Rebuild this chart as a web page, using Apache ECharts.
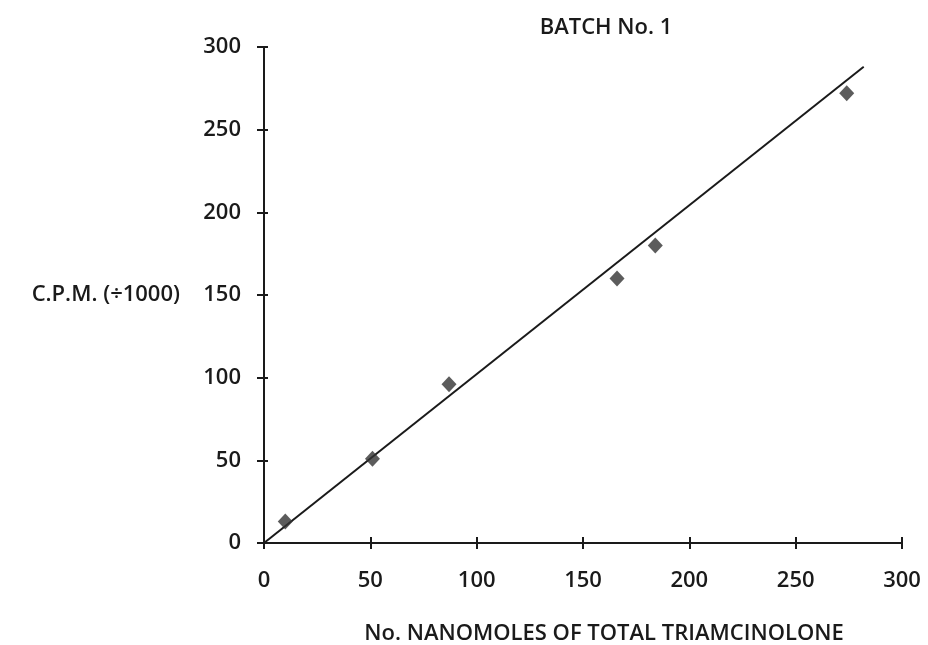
<!DOCTYPE html>
<html>
<head>
<meta charset="utf-8">
<script src="https://cdn.jsdelivr.net/npm/echarts@6/dist/echarts.min.js"></script>
<style>
  html, body { margin: 0; padding: 0; background: #fff; }
  #chart { width: 928px; height: 645px; }
</style>
</head>
<body>
<div id="chart"></div>
<script>
// Measured standards: nanomoles of triamcinolone vs counts per minute (÷1000)
const nanomoles = [10, 51, 87, 166, 184, 274];
const cpm = [13, 51, 96, 160, 180, 272];
// Calibration line endpoints
const fitX = [0, 282];
const fitY = [0, 288];
const axisTicks = [0, 50, 100, 150, 200, 250, 300];

const FONT = 'Open Sans';
const ink = '#1a1a1a';

const chart = echarts.init(document.getElementById('chart'), null, { renderer: 'canvas' });

const baseAxis = {
  min: axisTicks[0],
  max: axisTicks[axisTicks.length - 1],
  interval: axisTicks[1] - axisTicks[0],
  splitLine: { show: false }
};

chart.setOption({
  animation: false,
  backgroundColor: '#fff',
  title: {
    text: 'BATCH No. 1',
    left: 601,
    top: 12,
    textAlign: 'center',
    textStyle: { fontFamily: FONT, fontSize: 22, fontWeight: 600, color: ink }
  },
  grid: {
    left: 264, right: 26, top: 47, bottom: 102,
    containLabel: false,
    outerBoundsMode: 'none'
  },
  xAxis: [
    Object.assign({}, baseAxis, {
      type: 'value',
      name: 'No. NANOMOLES OF TOTAL TRIAMCINOLONE',
      nameLocation: 'middle',
      nameGap: 80,
      nameTextStyle: {
        fontFamily: FONT, fontSize: 22, fontWeight: 600, color: ink,
        letterSpacing: 0.4, padding: [0, 0, 0, 42]
      },
      axisLine: { show: true, onZero: false, lineStyle: { color: ink, width: 2 } },
      axisTick: { show: true, inside: false, length: 6, lineStyle: { color: ink, width: 2 } },
      axisLabel: { fontFamily: FONT, fontSize: 22, fontWeight: 600, color: ink, margin: 27 }
    }),
    Object.assign({}, baseAxis, {
      type: 'value',
      position: 'bottom',
      axisLine: { show: false },
      axisTick: { show: true, inside: true, length: 6, lineStyle: { color: ink, width: 2 } },
      axisLabel: { show: false }
    })
  ],
  yAxis: [
    Object.assign({}, baseAxis, {
      type: 'value',
      name: 'C.P.M. (÷1000)',
      nameLocation: 'middle',
      nameRotate: 0,
      nameGap: 84,
      nameTextStyle: {
        fontFamily: FONT, fontSize: 22, fontWeight: 600, color: ink,
        letterSpacing: 2, padding: [6, 0, 0, 0]
      },
      axisLine: { show: true, onZero: false, lineStyle: { color: ink, width: 2 } },
      axisTick: { show: true, inside: false, length: 7, lineStyle: { color: ink, width: 2 } },
      axisLabel: { fontFamily: FONT, fontSize: 22, fontWeight: 600, color: ink, margin: 23 }
    }),
    Object.assign({}, baseAxis, {
      type: 'value',
      position: 'left',
      axisLine: { show: false },
      axisTick: { show: true, inside: true, length: 4, lineStyle: { color: ink, width: 2 } },
      axisLabel: { show: false }
    })
  ],
  series: [
    {
      type: 'line',
      data: fitX.map((x, i) => [x, fitY[i]]),
      symbol: 'none',
      lineStyle: { color: ink, width: 2 },
      z: 2
    },
    {
      type: 'scatter',
      data: nanomoles.map((x, i) => [x, cpm[i]]),
      symbol: 'diamond',
      symbolSize: [15, 16],
      itemStyle: { color: '#333333' },
      z: 3
    }
  ]
});
</script>
</body>
</html>
